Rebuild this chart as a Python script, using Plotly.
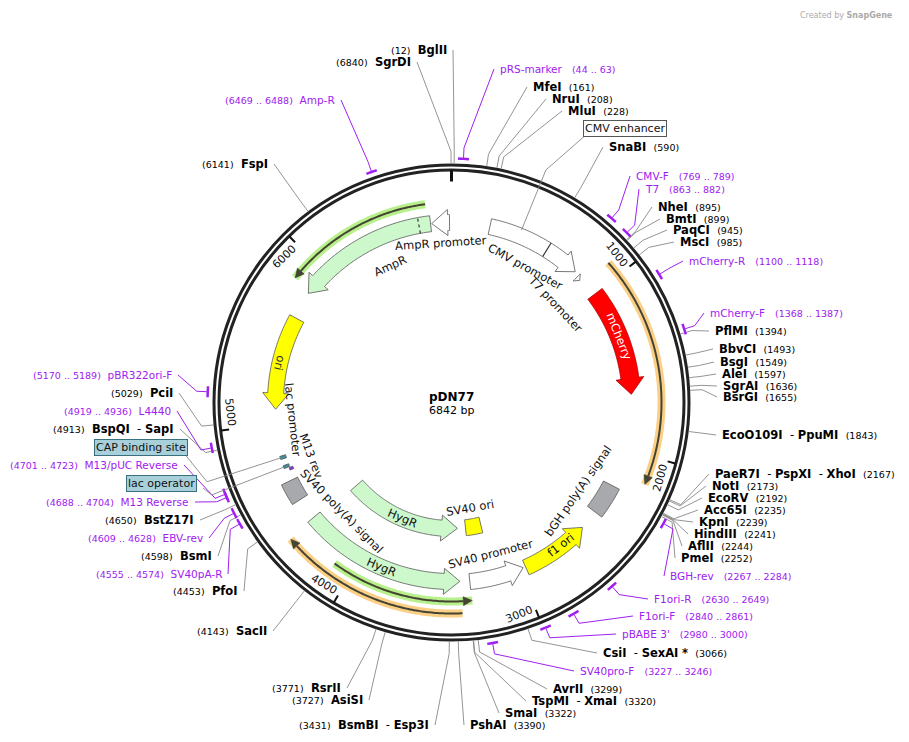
import math
import plotly.graph_objects as go

TOTAL = 6842
PLASMID = "pDN77"

# ---------------- data ----------------
feat_names = ["AmpR promoter", "AmpR", "ori", "CMV promoter", "T7 promoter", "mCherry",
              "bGH poly(A) signal", "f1 ori", "SV40 promoter", "SV40 ori", "HygR", "HygR",
              "SV40 poly(A) signal", "CAP binding site", "lac operator", "M13 rev"]
feat_start = [6722, 5841, 5090, 234, 856, 1005, 2230, 2540, 2975, 3165, 3370, 3370, 4510, 4780, 4722, 4700]
feat_end   = [6830, 6715, 5673, 825, 882, 1661, 2420, 2960, 3310, 3300, 4350, 4375, 4640, 4800, 4740, 4716]
feat_dir   = [-1, -1, -1, 1, 1, 1, 0, -1, -1, 0, -1, -1, 0, 0, 0, 0]
feat_divider = {1: 6644, 3: 608}

orf_start = [918, 3364, 5864, 3307]
orf_end   = [2147, 4364, 6698, 4105]
orf_dir   = [1, 1, -1, -1]

enz_names = ["MfeI", "NruI", "MluI", "SnaBI", "NheI", "BmtI", "PaqCI", "MscI", "PflMI", "BbvCI",
             "BsgI", "AleI", "SgrAI", "BsrGI", "EcoO109I - PpuMI", "PaeR7I - PspXI - XhoI", "NotI",
             "EcoRV", "Acc65I", "KpnI", "HindIII", "AflII", "PmeI", "CsiI - SexAI *", "AvrII",
             "TspMI - XmaI", "SmaI", "PshAI",
             "BglII", "SgrDI", "BsmBI - Esp3I", "AsiSI", "RsrII", "SacII", "PfoI", "BsmI",
             "BstZ17I", "BspQI - SapI", "PciI", "FspI"]
enz_pos = [161, 208, 228, 590, 895, 899, 945, 985, 1394, 1493, 1549, 1597, 1636, 1655, 1843, 2167,
           2173, 2192, 2235, 2239, 2241, 2244, 2252, 3066, 3299, 3320, 3322, 3390,
           12, 6840, 3431, 3727, 3771, 4143, 4453, 4598, 4650, 4913, 5029, 6141]

primer_names = ["pRS-marker", "CMV-F", "T7", "mCherry-R", "mCherry-F", "BGH-rev", "F1ori-R", "F1ori-F",
                "pBABE 3'", "SV40pro-F", "Amp-R", "SV40pA-R", "EBV-rev", "M13 Reverse",
                "M13/pUC Reverse", "L4440", "pBR322ori-F"]
primer_start = [44, 769, 863, 1100, 1368, 2267, 2630, 2840, 2980, 3227, 6469, 4555, 4609, 4688, 4701, 4919, 5170]
primer_end   = [63, 789, 882, 1118, 1387, 2284, 2649, 2861, 3000, 3246, 6488, 4574, 4628, 4704, 4723, 4936, 5189]

tick_values = [1000, 2000, 3000, 4000, 5000, 6000]

# ---------------- layout / style (not data) ----------------
CX, CY, R = 451.5, 402.5, 235
feat_radius = [180, 180, 176, 180, 177, 180, 180, 181, 180, 126, 126, 179, 180, 177, 177, 173]
feat_fill = ["white", "#ccf8cc", "#ffff00", "white", "white", "#ff0000", "#a7a9ac", "#ffff00", "white",
             "#ffff00", "#ccf8cc", "#ccf8cc", "#a7a9ac", "#3f8ea0", "#3f8ea0", "#8a2be2"]
feat_hw = [8, 8, 8, 8, 3, 9, 9, 8, 8, 8, 8, 8, 9, 3, 3, 2]
orf_radius = [210, 211, 200, 199]
orf_glow = ["#fbcf86", "#fbcf86", "#b8f08c", "#b8f08c"]

enz_label_xy = [(531, 87), (550, 99), (566, 111), (607, 147), (656, 207), (664, 219), (671, 230), (678, 242),
                (713, 331), (717, 349), (718, 362), (720, 374), (721, 386), (721, 397), (720, 435), (713, 474),
                (710, 486), (706, 498), (702, 510), (697, 522), (692, 534), (686, 546), (679, 558), (601, 653),
                (551, 689), (530, 701), (503, 713), (468, 725),
                (449, 50), (413, 62), (431, 725), (365, 700), (343, 688), (269, 631), (240, 591), (214, 556),
                (196, 520), (176, 429), (175, 393), (270, 164)]
enz_right_side = [True] * 28 + [False] * 12
primer_label_xy = [(498, 69), (634, 176), (643, 189), (687, 261), (708, 313), (668, 576), (652, 599),
                   (637, 616), (620, 634), (578, 671), (337, 100), (224, 574), (205, 538), (191, 502),
                   (180, 465), (173, 411), (174, 375)]
primer_right_side = [True] * 10 + [False] * 7

FONT = "DejaVu Sans"
PURPLE = "#a020f0"
PAGE_OFF = 8  # default body margin of the html page


def theta(bp):
    return 2 * math.pi * bp / TOTAL


def pt(bp, r):
    t = theta(bp)
    return CX + r * math.sin(t), CY - r * math.cos(t)


def arc_pts(a, b, r, n=None):
    if n is None:
        n = max(4, int(abs(b - a) / 10))
    return [pt(a + (b - a) * i / n, r) for i in range(n + 1)]


def path_from(pts, close=True):
    s = "M " + " L ".join(f"{x:.2f},{y:.2f}" for x, y in pts)
    return s + (" Z" if close else "")


def bp_from_px(px, r):
    return px / r * TOTAL / (2 * math.pi)


shapes = []
annotations = []


def add_line(pts, color, width, dash=None):
    ln = dict(color=color, width=width)
    if dash:
        ln["dash"] = dash
    shapes.append(dict(type="path", path=path_from(pts, close=False), line=ln, layer="above"))


def add_poly(pts, fill, line="#555555", lw=0.8):
    shapes.append(dict(type="path", path=path_from(pts), fillcolor=fill,
                       line=dict(color=line, width=lw), layer="above"))


# ORF arcs with glow
for s, e, d, r, g in zip(orf_start, orf_end, orf_dir, orf_radius, orf_glow):
    add_line(arc_pts(s, e, r), g, 8)
    hl = bp_from_px(9, r)
    tip = e if d == 1 else s
    if d == 1:
        add_line(arc_pts(s, e - hl, r), "#444433", 2)
    else:
        add_line(arc_pts(s + hl, e, r), "#444433", 2)
    neck = tip - d * hl
    add_poly([pt(neck, r + 4.5), pt(tip, r), pt(neck, r - 4.5)], "#444433", "#444433", 0.5)

# features
for i, (nm, s, e, d) in enumerate(zip(feat_names, feat_start, feat_end, feat_dir)):
    r, fill, hw = feat_radius[i], feat_fill[i], feat_hw[i]
    if d == 0:
        pts = arc_pts(s, e, r + hw) + arc_pts(e, s, r - hw)
    else:
        hh = hw + 5 if hw > 4 else hw + 2
        hl = bp_from_px(16 if hw > 4 else 6, r)
        tail = s if d == 1 else e
        tip = e if d == 1 else s
        neck = tip - d * hl
        if (neck - tail) * d < 0:
            neck = tail
        pts = arc_pts(tail, neck, r + hw) + [pt(neck, r + hh), pt(tip, r), pt(neck, r - hh)] + arc_pts(neck, tail, r - hw)
    add_poly(pts, fill, "#555555" if fill != "#ff0000" else "#aa0000")
    if i in feat_divider:
        b = feat_divider[i]
        add_line([pt(b, r - hw), pt(b, r + hw)], "#333333", 1.2, "dot" if i == 1 else None)

# backbone ring
for rr in (R + 2.5, R - 2.5):
    shapes.append(dict(type="circle", x0=CX - rr, x1=CX + rr, y0=CY - rr, y1=CY + rr,
                       line=dict(color="#222222", width=3)))
add_line([pt(0, R - 3), pt(0, R - 14)], "#111111", 3)

# ticks
for tv in tick_values:
    add_line([pt(tv, R - 3), pt(tv, R - 11)], "#111111", 2)
    tdeg = 360 * tv / TOTAL
    ang = tdeg if tdeg <= 90 else (tdeg - 180 if tdeg <= 270 else tdeg - 360)
    off = -4.5 if (tdeg <= 90 or tdeg > 270) else 4.5
    x, y = pt(tv + off * TOTAL / 360, R - 13)
    annotations.append(dict(x=x, y=y, text=str(tv), showarrow=False, textangle=ang,
                            font=dict(family=FONT, size=11, color="#111111")))

# leader lines + enzyme labels
for nm, p, (lx, ly), right in zip(enz_names, enz_pos, enz_label_xy, enz_right_side):
    ax = lx - 4 if right else lx + 4
    add_line([pt(p, R + 4), pt(p, R + 16), (ax, ly)], "#888888", 0.9)
    parts = nm.replace(" *", "").split(" - ")
    bold = "\u00a0\u00a0- ".join(f"<b>{n}</b>" for n in parts)
    if nm.endswith("*"):
        bold += " <b>*</b>"
    num = f"<span style='font-size:9.5px'>({p})</span>"
    txt = (bold + "\u00a0\u00a0" + num) if right else (num + "\u00a0\u00a0" + bold)
    annotations.append(dict(x=lx, y=ly, text=txt, showarrow=False,
                            xanchor="left" if right else "right", yanchor="middle",
                            font=dict(family=FONT, size=11.5, color="#000000")))

# primers
for nm, s, e, (lx, ly), right in zip(primer_names, primer_start, primer_end, primer_label_xy, primer_right_side):
    m = (s + e) / 2
    add_line(arc_pts(s - 15, e + 15, R + 9, 4), PURPLE, 2.5)
    ax = lx - 4 if right else lx + 4
    add_line([pt(m, R + 10), pt(m, R + 20), (ax, ly)], PURPLE, 1)
    rng = f"<span style='font-size:9.5px'>({s} .. {e})</span>"
    txt = (nm + "\u00a0\u00a0\u00a0" + rng) if right else (rng + "\u00a0\u00a0" + nm)
    annotations.append(dict(x=lx, y=ly, text=txt, showarrow=False,
                            xanchor="left" if right else "right", yanchor="middle",
                            font=dict(family=FONT, size=10.5, color=PURPLE)))

# boxed feature callouts
callouts = [("CMV enhancer", 420, 186, 625, 128, "white", "#555555"),
            ("CAP binding site", 4790, 180, 141, 447, "#a8d0da", "#3a6f80"),
            ("lac operator", 4731, 180, 161, 483, "#a8d0da", "#3a6f80")]
for txt, p, r0, bx, by, bg, bc in callouts:
    if bx > CX:
        add_line([pt(p, r0), pt(p, R + 16), (bx - 38, by + 6)], "#888888", 0.9)
    else:
        add_line([pt(p, r0), pt(p, R + 22), (bx + 42, by + 5)], "#888888", 0.9)
    annotations.append(dict(x=bx, y=by, text=txt, showarrow=False, bgcolor=bg, bordercolor=bc,
                            borderwidth=1, borderpad=1, font=dict(family=FONT, size=11, color="#111111")))

# feature labels along the map
flabels = [("mCherry", 1300, 180, "white", 1), ("ori", 5380, 176, "#333333", 1), ("AmpR", 6380, 150, "#111111", 0),
           ("AmpR promoter", 6772, 160, "#111111", 0), ("CMV promoter", 545, 155, "#111111", 0),
           ("T7 promoter", 885, 143, "#111111", 0), ("lac promoter", 5010, 160, "#111111", 1),
           ("M13 rev", 4735, 150, "#111111", 1), ("SV40 poly(A) signal", 4285, 154, "#111111", 1),
           ("HygR", 3860, 126, "#111111", 0), ("HygR", 3860, 179, "#111111", 0),
           ("SV40 ori", 3232, 107, "#111111", 0), ("SV40 promoter", 3147, 156, "#111111", 0),
           ("f1 ori", 2710, 180, "#111111", 0), ("bGH poly(A) signal", 2373, 154, "#111111", 0)]
for txt, p, r, col, flip in flabels:
    d = 360 * p / TOTAL
    ang = d if d <= 90 else (d - 180 if d <= 270 else d - 360)
    if flip and d > 270:
        ang = d - 180
    x, y = pt(p, r)
    annotations.append(dict(x=x, y=y, text=txt, showarrow=False, textangle=ang,
                            font=dict(family=FONT, size=11.5, color=col)))

annotations.append(dict(x=CX, y=397, text=f"<b>{PLASMID}</b>", showarrow=False,
                        font=dict(family=FONT, size=12, color="#000")))
annotations.append(dict(x=CX, y=410, text=f"{TOTAL} bp", showarrow=False,
                        font=dict(family=FONT, size=11, color="#000")))
annotations.append(dict(x=895, y=PAGE_OFF + 1, text="Created by <b>SnapGene</b>", showarrow=False,
                        xanchor="right", yanchor="top",
                        font=dict(family=FONT, size=8, color="#aaaaaa")))

fig = go.Figure()
fig.add_trace(go.Scatter(x=[PAGE_OFF, 909], y=[PAGE_OFF, 742], mode="markers", marker=dict(opacity=0), hoverinfo="skip"))
fig.update_layout(width=909, height=742, margin=dict(l=0, r=0, t=0, b=0),
                  plot_bgcolor="white", paper_bgcolor="white", showlegend=False,
                  xaxis=dict(range=[PAGE_OFF, 909 + PAGE_OFF], visible=False, fixedrange=True),
                  yaxis=dict(range=[742 + PAGE_OFF, PAGE_OFF], visible=False, fixedrange=True),
                  shapes=shapes, annotations=annotations)
fig.write_html("out.html")
